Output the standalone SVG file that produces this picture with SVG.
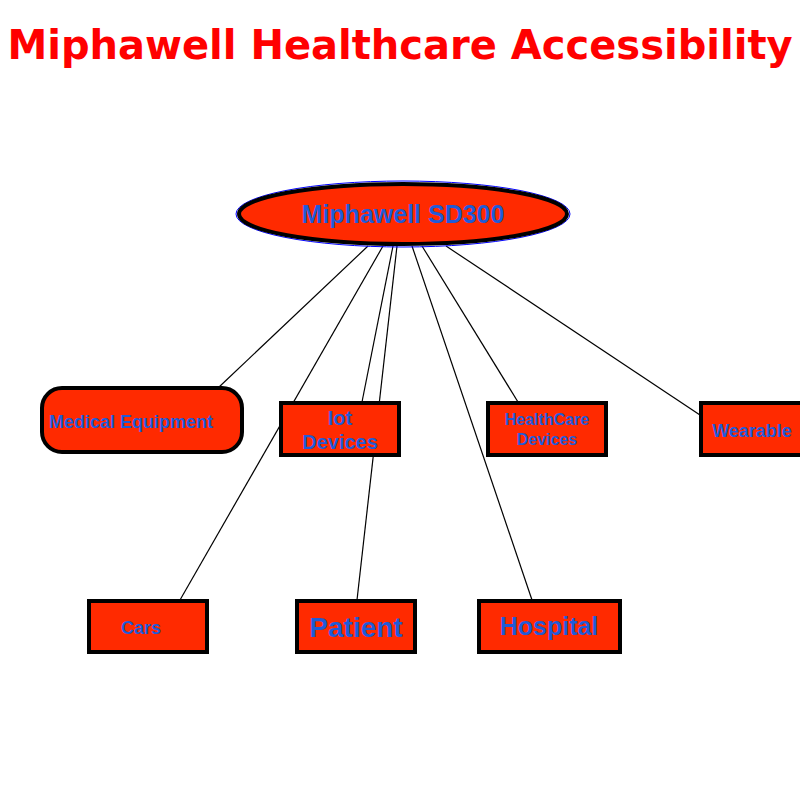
<svg xmlns="http://www.w3.org/2000/svg" width="800" height="800" viewBox="0 0 800 800">
<style>
.box{fill:#ff2a00;stroke:#000;stroke-width:4}
.lbl{font-family:"Liberation Sans",Arial,sans-serif;font-weight:bold;fill:#1f5bd8;text-anchor:middle}
.ln{stroke:#000;stroke-width:1.2;fill:none}
</style>
<rect width="800" height="800" fill="#fff"/>
<text x="400" y="59" font-family="'DejaVu Sans',sans-serif" font-weight="bold" font-size="40" fill="#ff0000" text-anchor="middle">Miphawell Healthcare Accessibility</text>
<g id="connectors">
<line class="ln" x1="368" y1="246" x2="218" y2="388"/>
<line class="ln" x1="383" y1="246" x2="180" y2="600"/>
<line class="ln" x1="393" y1="246" x2="362" y2="402"/>
<line class="ln" x1="397" y1="246" x2="357" y2="600"/>
<line class="ln" x1="412" y1="246" x2="532" y2="600"/>
<line class="ln" x1="422" y1="246" x2="518" y2="402"/>
<line class="ln" x1="446" y1="246" x2="700" y2="415"/>
</g>
<g id="sd300">
<ellipse cx="403" cy="214" rx="167" ry="33" fill="none" stroke="#0000ff" stroke-width="1"/>
<ellipse cx="403" cy="214" rx="164" ry="30" class="box"/>
<text class="lbl" x="403" y="223" font-size="25">Miphawell SD300</text>
</g>
<g id="medical">
<rect x="42" y="388" width="200" height="64" rx="20" class="box"/>
<text class="lbl" x="131" y="428" font-size="18">Medical Equipment</text>
<text x="240" y="430" font-family="'Liberation Sans',sans-serif" font-size="10" fill="#000">‹</text>
</g>
<g id="iot">
<rect x="281" y="403" width="118" height="52" class="box"/>
<text class="lbl" x="340" y="425" font-size="20">Iot</text>
<text class="lbl" x="340" y="449" font-size="20">Devices</text>
</g>
<g id="healthcare">
<rect x="488" y="403" width="118" height="52" class="box"/>
<text class="lbl" x="547" y="425" font-size="16">HealthCare</text>
<text class="lbl" x="547" y="445" font-size="16">Devices</text>
</g>
<g id="wearable">
<rect x="701" y="403" width="110" height="52" class="box"/>
<text class="lbl" x="752" y="437" font-size="18">Wearable</text>
</g>
<g id="cars">
<rect x="89" y="601" width="118" height="51" class="box"/>
<text class="lbl" x="141" y="634" font-size="18">Cars</text>
</g>
<g id="patient">
<rect x="297" y="601" width="118" height="51" class="box"/>
<text class="lbl" x="356" y="637" font-size="28">Patient</text>
</g>
<g id="hospital">
<rect x="479" y="601" width="141" height="51" class="box"/>
<text class="lbl" x="549" y="635" font-size="25">Hospital</text>
</g>
</svg>
